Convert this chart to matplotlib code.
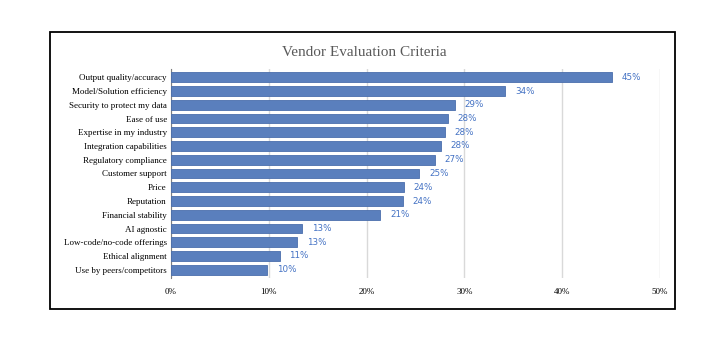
import matplotlib
matplotlib.use("Agg")
import matplotlib.pyplot as plt
from matplotlib.patches import Rectangle

categories = ["Output quality/accuracy", "Model/Solution efficiency",
              "Security to protect my data", "Ease of use",
              "Expertise in my industry", "Integration capabilities",
              "Regulatory compliance", "Customer support", "Price",
              "Reputation", "Financial stability", "AI agnostic",
              "Low-code/no-code offerings", "Ethical alignment",
              "Use by peers/competitors"]
values = [45.1, 34.2, 29.0, 28.3, 28.0, 27.6, 27.0, 25.4, 23.8, 23.7,
          21.4, 13.4, 12.9, 11.1, 9.8]
value_labels = ["45%", "34%", "29%", "28%", "28%", "28%", "27%", "25%",
                "24%", "24%", "21%", "13%", "13%", "11%", "10%"]
ticks = [0, 10, 20, 30, 40, 50]

W, H = 720, 338
fig = plt.figure(figsize=(7.2, 3.38), dpi=100)

# outer frame
fig.patches.append(Rectangle((50 / W, 1 - 309 / H), 625 / W, 277 / H,
                             transform=fig.transFigure, fill=False,
                             edgecolor="black", lw=1.3))

fig.text(364 / W, 1 - 52 / H, "Vendor Evaluation Criteria",
         ha="center", va="center", family="Liberation Serif",
         fontsize=11, color="#595959")

ax = fig.add_axes([171 / W, 1 - 278 / H, 489 / W, 209 / H])
y = list(range(len(categories)))
ax.barh(y, values, height=0.72, color="#5a7fbd", edgecolor="#4a6eac",
        lw=0.6, zorder=3)
for yi, v, lab in zip(y, values, value_labels):
    ax.text(v + 1.0, yi, lab, va="center", ha="left", fontsize=6.3,
            color="#4472c4", family="DejaVu Sans")

ax.set_ylim(len(categories) - 0.4, -0.6)
ax.set_xlim(0, 50)
ax.set_yticks(y)
ax.set_yticklabels(categories, family="Liberation Serif", fontsize=6.5)
ax.set_xticks(ticks)
ax.set_xticklabels([f"{t}%" for t in ticks], family="Liberation Serif",
                   fontsize=6.5)
ax.tick_params(axis="y", length=0, pad=3)
ax.tick_params(axis="x", length=0, pad=7)
ax.xaxis.grid(True, color="#d9d9d9", lw=1, zorder=0)
for s in ["top", "right", "bottom"]:
    ax.spines[s].set_visible(False)
ax.spines["left"].set_color("#7f7f7f")
ax.spines["left"].set_linewidth(0.8)

fig.savefig("out.png", dpi=100)
